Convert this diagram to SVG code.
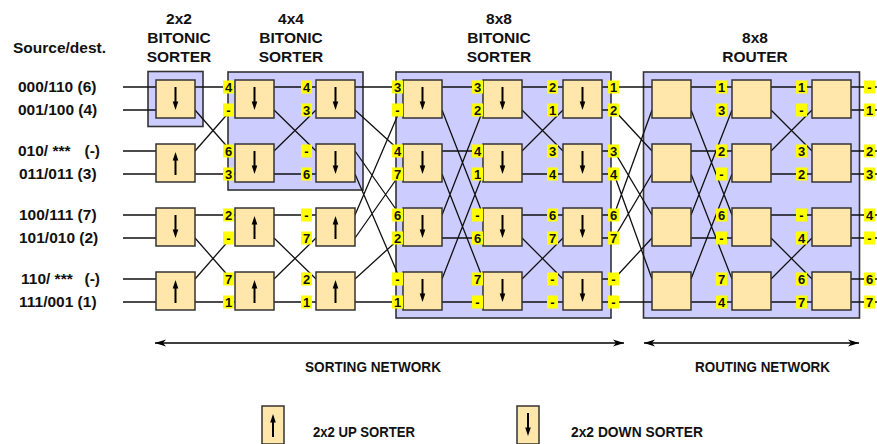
<svg xmlns="http://www.w3.org/2000/svg" xmlns:xlink="http://www.w3.org/1999/xlink" width="877" height="444" viewBox="0 0 877 444">
<style>
text{font-family:"Liberation Sans",Arial,sans-serif;font-weight:bold;fill:#111}
.h{font-size:15.5px;text-anchor:middle}
.t{font-size:15.5px}
.b{font-size:15.5px}
.grp{fill:#CCCCFF;stroke:#333;stroke-width:1.6}
.bx{fill:#FFE6AA;stroke:#333;stroke-width:1.5}
.w{fill:none;stroke:#111;stroke-width:1.3}
.lb rect{fill:#FFFF00}
.lb text{font-size:13px;text-anchor:middle}
</style>
<defs>
<g id="dn"><path d="M0,-12 V4" stroke="#000" stroke-width="2"/><path d="M-2.8,2.5 L0,11 L2.8,2.5 Z" fill="#000"/></g>
<g id="up"><path d="M0,12 V-4" stroke="#000" stroke-width="2"/><path d="M-2.8,-2.5 L0,-11 L2.8,-2.5 Z" fill="#000"/></g>
<marker id="ah" markerUnits="userSpaceOnUse" markerWidth="12" markerHeight="8" refX="11" refY="4" orient="auto-start-reverse"><path d="M0,0.5 L11,4 L0,7.5 L3,4 Z" fill="#000"/></marker>
</defs>

<!-- headings -->
<g id="headings">
<text class="t" x="13" y="53">Source/dest.</text>
<text class="h" x="179" y="24">2x2</text><text class="h" x="179" y="43">BITONIC</text><text class="h" x="179" y="62">SORTER</text>
<text class="h" x="291" y="24">4x4</text><text class="h" x="291" y="43">BITONIC</text><text class="h" x="291" y="62">SORTER</text>
<text class="h" x="499" y="24">8x8</text><text class="h" x="499" y="43">BITONIC</text><text class="h" x="499" y="62">SORTER</text>
<text class="h" x="755" y="43">8x8</text><text class="h" x="755" y="62">ROUTER</text>
</g>

<g id="row-labels">
<text class="t" x="18" y="92">000/110 (6)</text>
<text class="t" x="18" y="115">001/100 (4)</text>
<text class="t" x="18" y="156">010/ ***</text><text class="t" x="100" y="156" text-anchor="end">(-)</text>
<text class="t" x="19" y="179">011/011 (3)</text>
<text class="t" x="19" y="220">100/111 (7)</text>
<text class="t" x="19" y="243">101/010 (2)</text>
<text class="t" x="21" y="284">110/ ***</text><text class="t" x="100" y="284" text-anchor="end">(-)</text>
<text class="t" x="19" y="307">111/001 (1)</text>
</g>

<!-- group frames -->
<g id="frames">
<rect id="g2x2" class="grp" x="148" y="71.5" width="55" height="55"/>
<rect id="g4x4" class="grp" x="228" y="72" width="135" height="118"/>
<rect id="g8x8" class="grp" x="396" y="72" width="215" height="246"/>
<rect id="grouter" class="grp" x="643.5" y="72" width="216" height="246"/>
</g>

<!-- connectors -->
<g id="connectors" class="w">
<path d="M123,87H156M123,110H156M123,151H156M123,174H156M123,215H156M123,238H156M123,279H156M123,302H156"/>
<path d="M195,87H235M195,110L231,151M195,151L231,110M195,174H235M195,215H235M195,238L231,279M195,279L231,238M195,302H235"/>
<path d="M274,87H316M274,110L316,151M274,151L316,110M274,174H316M274,215H316M274,238L316,279M274,279L316,238M274,302H316"/>
<path d="M355,87H403M355,110L400,151M355,151L400,215M355,174L400,279M355,215L400,110M355,238L400,174M355,279L400,238M355,302H403"/>
<path d="M442,87H483M442,110L483,215M442,151H483M442,174L483,279M442,215L483,110M442,238H483M442,279L483,174M442,302H483"/>
<path d="M522,87H563M522,110L563,151M522,151L563,110M522,174H563M522,215H563M522,238L563,279M522,279L563,238M522,302H563"/>
<path d="M602,87H652M602,110H614L652,151M602,151H614L652,215M602,174H614L652,279M602,215H614L652,110M602,238H614L652,174M602,279H614L652,238M602,302H652"/>
<path d="M691,87H732M691,110L732,215M691,151H732M691,174L732,279M691,215L732,110M691,238H732M691,279L732,174M691,302H732"/>
<path d="M771,87H812M771,110L812,151M771,151L812,110M771,174H812M771,215H812M771,238L812,279M771,279L812,238M771,302H812"/>
<path d="M851,87H877M851,110H877M851,151H877M851,174H877M851,215H877M851,238H877M851,279H877M851,302H877"/>
</g>

<!-- 2x2 sorters -->
<g id="s1a"><rect class="bx" x="156" y="80" width="39" height="38"/><use href="#dn" x="175.5" y="99"/></g>
<g id="s1b"><rect class="bx" x="156" y="144" width="39" height="38"/><use href="#up" x="175.5" y="163"/></g>
<g id="s1c"><rect class="bx" x="156" y="208" width="39" height="38"/><use href="#dn" x="175.5" y="227"/></g>
<g id="s1d"><rect class="bx" x="156" y="272" width="39" height="38"/><use href="#up" x="175.5" y="291"/></g>
<!-- 4x4 -->
<g id="s2a"><rect class="bx" x="235" y="80" width="39" height="38"/><use href="#dn" x="254.5" y="99"/></g>
<g id="s2b"><rect class="bx" x="235" y="144" width="39" height="38"/><use href="#dn" x="254.5" y="163"/></g>
<g id="s2c"><rect class="bx" x="235" y="208" width="39" height="38"/><use href="#up" x="254.5" y="227"/></g>
<g id="s2d"><rect class="bx" x="235" y="272" width="39" height="38"/><use href="#up" x="254.5" y="291"/></g>
<g id="s3a"><rect class="bx" x="316" y="80" width="39" height="38"/><use href="#dn" x="335.5" y="99"/></g>
<g id="s3b"><rect class="bx" x="316" y="144" width="39" height="38"/><use href="#dn" x="335.5" y="163"/></g>
<g id="s3c"><rect class="bx" x="316" y="208" width="39" height="38"/><use href="#up" x="335.5" y="227"/></g>
<g id="s3d"><rect class="bx" x="316" y="272" width="39" height="38"/><use href="#up" x="335.5" y="291"/></g>
<!-- 8x8 bitonic -->
<g id="s4a"><rect class="bx" x="403" y="80" width="39" height="38"/><use href="#dn" x="422.5" y="99"/></g>
<g id="s4b"><rect class="bx" x="403" y="144" width="39" height="38"/><use href="#dn" x="422.5" y="163"/></g>
<g id="s4c"><rect class="bx" x="403" y="208" width="39" height="38"/><use href="#dn" x="422.5" y="227"/></g>
<g id="s4d"><rect class="bx" x="403" y="272" width="39" height="38"/><use href="#dn" x="422.5" y="291"/></g>
<g id="s5a"><rect class="bx" x="483" y="80" width="39" height="38"/><use href="#dn" x="502.5" y="99"/></g>
<g id="s5b"><rect class="bx" x="483" y="144" width="39" height="38"/><use href="#dn" x="502.5" y="163"/></g>
<g id="s5c"><rect class="bx" x="483" y="208" width="39" height="38"/><use href="#dn" x="502.5" y="227"/></g>
<g id="s5d"><rect class="bx" x="483" y="272" width="39" height="38"/><use href="#dn" x="502.5" y="291"/></g>
<g id="s6a"><rect class="bx" x="563" y="80" width="39" height="38"/><use href="#dn" x="582.5" y="99"/></g>
<g id="s6b"><rect class="bx" x="563" y="144" width="39" height="38"/><use href="#dn" x="582.5" y="163"/></g>
<g id="s6c"><rect class="bx" x="563" y="208" width="39" height="38"/><use href="#dn" x="582.5" y="227"/></g>
<g id="s6d"><rect class="bx" x="563" y="272" width="39" height="38"/><use href="#dn" x="582.5" y="291"/></g>
<!-- router -->
<g id="r1a"><rect class="bx" x="652" y="80" width="39" height="38"/></g>
<g id="r1b"><rect class="bx" x="652" y="144" width="39" height="38"/></g>
<g id="r1c"><rect class="bx" x="652" y="208" width="39" height="38"/></g>
<g id="r1d"><rect class="bx" x="652" y="272" width="39" height="38"/></g>
<g id="r2a"><rect class="bx" x="732" y="80" width="39" height="38"/></g>
<g id="r2b"><rect class="bx" x="732" y="144" width="39" height="38"/></g>
<g id="r2c"><rect class="bx" x="732" y="208" width="39" height="38"/></g>
<g id="r2d"><rect class="bx" x="732" y="272" width="39" height="38"/></g>
<g id="r3a"><rect class="bx" x="812" y="80" width="39" height="38"/></g>
<g id="r3b"><rect class="bx" x="812" y="144" width="39" height="38"/></g>
<g id="r3c"><rect class="bx" x="812" y="208" width="39" height="38"/></g>
<g id="r3d"><rect class="bx" x="812" y="272" width="39" height="38"/></g>

<!-- value labels -->
<g id="labels" class="lb">
<g id="L1"><rect x="223" y="80.5" width="11" height="13"/><rect x="223" y="103.5" width="11" height="13"/><rect x="223" y="144.5" width="11" height="13"/><rect x="223" y="167.5" width="11" height="13"/><rect x="223" y="208.5" width="11" height="13"/><rect x="223" y="231.5" width="11" height="13"/><rect x="223" y="272.5" width="11" height="13"/><rect x="223" y="295.5" width="11" height="13"/>
<text x="228.5" y="91.5">4</text><text x="228.5" y="114.5">-</text><text x="228.5" y="155.5">6</text><text x="228.5" y="178.5">3</text><text x="228.5" y="219.5">2</text><text x="228.5" y="242.5">-</text><text x="228.5" y="283.5">7</text><text x="228.5" y="306.5">1</text></g>
<g id="L2"><rect x="301" y="80.5" width="11" height="13"/><rect x="301" y="103.5" width="11" height="13"/><rect x="301" y="144.5" width="11" height="13"/><rect x="301" y="167.5" width="11" height="13"/><rect x="301" y="208.5" width="11" height="13"/><rect x="301" y="231.5" width="11" height="13"/><rect x="301" y="272.5" width="11" height="13"/><rect x="301" y="295.5" width="11" height="13"/>
<text x="306.5" y="91.5">4</text><text x="306.5" y="114.5">3</text><text x="306.5" y="155.5">-</text><text x="306.5" y="178.5">6</text><text x="306.5" y="219.5">-</text><text x="306.5" y="242.5">7</text><text x="306.5" y="283.5">2</text><text x="306.5" y="306.5">1</text></g>
<g id="L3"><rect x="392" y="80.5" width="11" height="13"/><rect x="392" y="103.5" width="11" height="13"/><rect x="392" y="144.5" width="11" height="13"/><rect x="392" y="167.5" width="11" height="13"/><rect x="392" y="208.5" width="11" height="13"/><rect x="392" y="231.5" width="11" height="13"/><rect x="392" y="272.5" width="11" height="13"/><rect x="392" y="295.5" width="11" height="13"/>
<text x="397.5" y="91.5">3</text><text x="397.5" y="114.5">-</text><text x="397.5" y="155.5">4</text><text x="397.5" y="178.5">7</text><text x="397.5" y="219.5">6</text><text x="397.5" y="242.5">2</text><text x="397.5" y="283.5">-</text><text x="397.5" y="306.5">1</text></g>
<g id="L4"><rect x="472" y="80.5" width="11" height="13"/><rect x="472" y="103.5" width="11" height="13"/><rect x="472" y="144.5" width="11" height="13"/><rect x="472" y="167.5" width="11" height="13"/><rect x="472" y="208.5" width="11" height="13"/><rect x="472" y="231.5" width="11" height="13"/><rect x="472" y="272.5" width="11" height="13"/><rect x="472" y="295.5" width="11" height="13"/>
<text x="477.5" y="91.5">3</text><text x="477.5" y="114.5">2</text><text x="477.5" y="155.5">4</text><text x="477.5" y="178.5">1</text><text x="477.5" y="219.5">-</text><text x="477.5" y="242.5">6</text><text x="477.5" y="283.5">7</text><text x="477.5" y="306.5">-</text></g>
<g id="L5"><rect x="547" y="80.5" width="11" height="13"/><rect x="547" y="103.5" width="11" height="13"/><rect x="547" y="144.5" width="11" height="13"/><rect x="547" y="167.5" width="11" height="13"/><rect x="547" y="208.5" width="11" height="13"/><rect x="547" y="231.5" width="11" height="13"/><rect x="547" y="272.5" width="11" height="13"/><rect x="547" y="295.5" width="11" height="13"/>
<text x="552.5" y="91.5">2</text><text x="552.5" y="114.5">1</text><text x="552.5" y="155.5">3</text><text x="552.5" y="178.5">4</text><text x="552.5" y="219.5">6</text><text x="552.5" y="242.5">7</text><text x="552.5" y="283.5">-</text><text x="552.5" y="306.5">-</text></g>
<g id="L6"><rect x="608" y="80.5" width="11" height="13"/><rect x="608" y="103.5" width="11" height="13"/><rect x="608" y="144.5" width="11" height="13"/><rect x="608" y="167.5" width="11" height="13"/><rect x="608" y="208.5" width="11" height="13"/><rect x="608" y="231.5" width="11" height="13"/><rect x="608" y="272.5" width="11" height="13"/><rect x="608" y="295.5" width="11" height="13"/>
<text x="613.5" y="91.5">1</text><text x="613.5" y="114.5">2</text><text x="613.5" y="155.5">3</text><text x="613.5" y="178.5">4</text><text x="613.5" y="219.5">6</text><text x="613.5" y="242.5">7</text><text x="613.5" y="283.5">-</text><text x="613.5" y="306.5">-</text></g>
<g id="L7"><rect x="716" y="80.5" width="11" height="13"/><rect x="716" y="103.5" width="11" height="13"/><rect x="716" y="144.5" width="11" height="13"/><rect x="716" y="167.5" width="11" height="13"/><rect x="716" y="208.5" width="11" height="13"/><rect x="716" y="231.5" width="11" height="13"/><rect x="716" y="272.5" width="11" height="13"/><rect x="716" y="295.5" width="11" height="13"/>
<text x="721.5" y="91.5">1</text><text x="721.5" y="114.5">3</text><text x="721.5" y="155.5">2</text><text x="721.5" y="178.5">-</text><text x="721.5" y="219.5">6</text><text x="721.5" y="242.5">-</text><text x="721.5" y="283.5">7</text><text x="721.5" y="306.5">4</text></g>
<g id="L8"><rect x="796" y="80.5" width="11" height="13"/><rect x="796" y="103.5" width="11" height="13"/><rect x="796" y="144.5" width="11" height="13"/><rect x="796" y="167.5" width="11" height="13"/><rect x="796" y="208.5" width="11" height="13"/><rect x="796" y="231.5" width="11" height="13"/><rect x="796" y="272.5" width="11" height="13"/><rect x="796" y="295.5" width="11" height="13"/>
<text x="801.5" y="91.5">1</text><text x="801.5" y="114.5">-</text><text x="801.5" y="155.5">3</text><text x="801.5" y="178.5">2</text><text x="801.5" y="219.5">-</text><text x="801.5" y="242.5">4</text><text x="801.5" y="283.5">6</text><text x="801.5" y="306.5">7</text></g>
<g id="L9"><rect x="864" y="80.5" width="11" height="13"/><rect x="864" y="103.5" width="11" height="13"/><rect x="864" y="144.5" width="11" height="13"/><rect x="864" y="167.5" width="11" height="13"/><rect x="864" y="208.5" width="11" height="13"/><rect x="864" y="231.5" width="11" height="13"/><rect x="864" y="272.5" width="11" height="13"/><rect x="864" y="295.5" width="11" height="13"/>
<text x="869.5" y="91.5">-</text><text x="869.5" y="114.5">1</text><text x="869.5" y="155.5">2</text><text x="869.5" y="178.5">3</text><text x="869.5" y="219.5">4</text><text x="869.5" y="242.5">-</text><text x="869.5" y="283.5">6</text><text x="869.5" y="306.5">7</text></g>
</g>

<!-- spans -->
<g id="spans">
<path d="M155,343H624" stroke="#000" stroke-width="1.4" marker-start="url(#ah)" marker-end="url(#ah)"/>
<path d="M644,343H859" stroke="#000" stroke-width="1.4" marker-start="url(#ah)" marker-end="url(#ah)"/>
<text class="b" x="305" y="372" textLength="136" lengthAdjust="spacingAndGlyphs">SORTING NETWORK</text>
<text class="b" x="695" y="372" textLength="135" lengthAdjust="spacingAndGlyphs">ROUTING NETWORK</text>
</g>

<!-- legend -->
<g id="legend-up"><rect class="bx" x="262" y="406" width="22" height="38"/><use href="#up" x="273" y="425"/><text class="b" x="313" y="437" textLength="102" lengthAdjust="spacingAndGlyphs">2x2 UP SORTER</text></g>
<g id="legend-down"><rect class="bx" x="517" y="406" width="22" height="38"/><use href="#dn" x="528" y="425"/><text class="b" x="571" y="437" textLength="132" lengthAdjust="spacingAndGlyphs">2x2 DOWN SORTER</text></g>
</svg>
